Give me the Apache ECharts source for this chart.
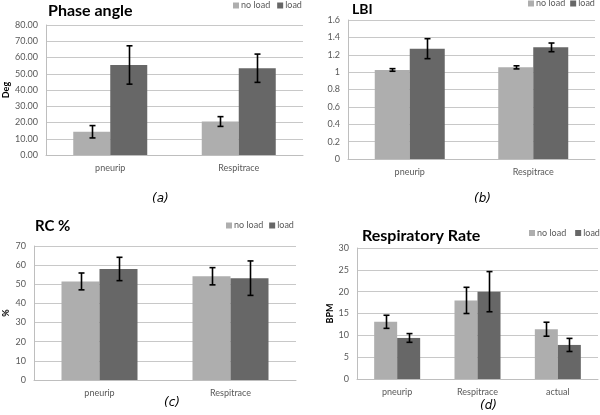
<!DOCTYPE html>
<html><head><meta charset="utf-8">
<script src="https://cdn.jsdelivr.net/npm/echarts@6/dist/echarts.min.js"></script>
<style>html,body{margin:0;padding:0;background:#fff}#c{width:600px;height:415px}</style>
</head><body><div id="c"></div>
<script>
// ---- data ----
const seriesNames = ['no load', 'load'];
// (a) Phase angle
const catsA = ['pneurip', 'Respitrace'];
const phaseNoLoad = [14.3, 20.6];
const phaseNoLoadErr = [3.8, 3.0];
const phaseLoad = [55.4, 53.4];
const phaseLoadErr = [11.8, 8.7];
// (b) LBI
const catsB = ['pneurip', 'Respitrace'];
const lbiNoLoad = [1.025, 1.055];
const lbiNoLoadErr = [0.015, 0.018];
const lbiLoad = [1.27, 1.285];
const lbiLoadErr = [0.115, 0.05];
// (c) RC %
const catsC = ['pneurip', 'Respitrace'];
const rcNoLoad = [51.5, 54.2];
const rcNoLoadErr = [4.4, 4.5];
const rcLoad = [58.0, 53.2];
const rcLoadErr = [6.1, 9.0];
// (d) Respiratory Rate
const catsD = ['pneurip', 'Respitrace', 'actual'];
const rrNoLoad = [13.1, 18.0, 11.4];
const rrNoLoadErr = [1.5, 3.0, 1.6];
const rrLoad = [9.4, 20.0, 7.8];
const rrLoadErr = [1.0, 4.6, 1.5];

const titles = ['Phase angle', 'LBI', 'RC %', 'Respiratory Rate'];
const panelLabels = ['(a)', '(b)', '(c)', '(d)'];

// ---- styling ----
const C_NO = '#AEAEAE', C_LOAD = '#676767';
const FONT = 'Lato';
const gridLine = {show: true, lineStyle: {color: '#C8C8C8', width: 1}};
const axisLine = {show: true, lineStyle: {color: '#BEBEBE', width: 1}};

const panels = [
  {cats: catsA, a: phaseNoLoad, ae: phaseNoLoadErr, b: phaseLoad, be: phaseLoadErr,
   grid: {left: 46, top: 25, width: 257, height: 130}, max: 80, interval: 10, fmt: v => v.toFixed(2),
   yname: 'Deg', ygap: 35, bw: 37},
  {cats: catsB, a: lbiNoLoad, ae: lbiNoLoadErr, b: lbiLoad, be: lbiLoadErr,
   grid: {left: 348, top: 20, width: 247, height: 139}, max: 1.6, interval: 0.2, fmt: v => String(Math.round(v * 10) / 10),
   yname: '', ygap: 0, bw: 35},
  {cats: catsC, a: rcNoLoad, ae: rcNoLoadErr, b: rcLoad, be: rcLoadErr,
   grid: {left: 34, top: 246, width: 262, height: 134}, max: 70, interval: 10, fmt: v => String(v),
   yname: '%', ygap: 23, bw: 38},
  {cats: catsD, a: rrNoLoad, ae: rrNoLoadErr, b: rrLoad, be: rrLoadErr,
   grid: {left: 357, top: 248, width: 241, height: 131}, max: 30, interval: 5, fmt: v => String(v),
   yname: 'BPM', ygap: 22, bw: 23}
];

function errRender(bw, sign) {
  return function (params, api) {
    const x = api.value(0);
    const lo = api.coord([x, api.value(1)]);
    const hi = api.coord([x, api.value(2)]);
    const cx = Math.round(lo[0] + sign * bw / 2) + 0.5;
    const cap = 3;
    const st = {stroke: '#000', lineWidth: 1.6};
    return {type: 'group', children: [
      {type: 'line', shape: {x1: cx, y1: hi[1], x2: cx, y2: lo[1]}, style: st},
      {type: 'line', shape: {x1: cx - cap, y1: hi[1], x2: cx + cap, y2: hi[1]}, style: st},
      {type: 'line', shape: {x1: cx - cap, y1: lo[1], x2: cx + cap, y2: lo[1]}, style: st}
    ]};
  };
}

const grids = [], xAxes = [], yAxes = [], series = [];
panels.forEach((p, i) => {
  grids.push(Object.assign({containLabel: false}, p.grid));
  xAxes.push({type: 'category', gridIndex: i, data: p.cats,
    axisLine: axisLine, axisTick: {show: false},
    axisLabel: {color: '#595959', fontFamily: FONT, fontSize: 9, margin: 9}});
  yAxes.push({type: 'value', gridIndex: i, min: 0, max: p.max, interval: p.interval,
    axisLine: axisLine, axisTick: {show: false}, splitLine: gridLine,
    axisLabel: {color: '#595959', fontFamily: FONT, fontSize: 9, margin: 8, formatter: p.fmt},
    name: p.yname, nameLocation: 'middle', nameRotate: 90, nameGap: p.ygap,
    nameTextStyle: {color: '#000', fontFamily: FONT, fontWeight: 'bold', fontSize: 9}});
  series.push({type: 'bar', name: seriesNames[0], xAxisIndex: i, yAxisIndex: i, data: p.a,
    barWidth: p.bw, barGap: '0%', itemStyle: {color: C_NO}, silent: true});
  series.push({type: 'bar', name: seriesNames[1], xAxisIndex: i, yAxisIndex: i, data: p.b,
    barWidth: p.bw, barGap: '0%', itemStyle: {color: C_LOAD}, silent: true});
  series.push({type: 'custom', xAxisIndex: i, yAxisIndex: i, z: 5, silent: true,
    renderItem: errRender(p.bw, -1),
    data: p.a.map((v, k) => [k, v - p.ae[k], v + p.ae[k]])});
  series.push({type: 'custom', xAxisIndex: i, yAxisIndex: i, z: 5, silent: true,
    renderItem: errRender(p.bw, 1),
    data: p.b.map((v, k) => [k, v - p.be[k], v + p.be[k]])});
});

const titleSpecs = [
  {text: titles[0], left: 48, top: 3, fontSize: 16},
  {text: titles[1], left: 352, top: 2, fontSize: 14},
  {text: titles[2], left: 35, top: 219, fontSize: 15},
  {text: titles[3], left: 362, top: 228, fontSize: 16}
];
const labelSpecs = [
  {text: panelLabels[0], left: 152, top: 193},
  {text: panelLabels[1], left: 474, top: 193},
  {text: panelLabels[2], left: 164, top: 397},
  {text: panelLabels[3], left: 480, top: 400}
];
const title = titleSpecs.map(t => ({text: t.text, left: t.left, top: t.top, padding: 0,
  textStyle: {fontFamily: FONT, fontWeight: 'bold', fontSize: t.fontSize, color: '#000'}}))
  .concat(labelSpecs.map(t => ({text: t.text, left: t.left, top: t.top, padding: 0,
  textStyle: {fontFamily: 'DejaVu Sans', fontStyle: 'italic', fontWeight: 'normal', fontSize: 12, color: '#000'}})));

const legendPos = [
  {left: 233, top: 1, gap: 7},
  {left: 528, top: -1, gap: 5},
  {left: 226, top: 221, gap: 6},
  {left: 529, top: 228.5, gap: 9}
];
const legend = legendPos.map(pos => ({data: seriesNames, left: pos.left, top: pos.top, padding: 0,
  orient: 'horizontal', width: 80,
  icon: 'rect', itemWidth: 6, itemHeight: 6, itemGap: pos.gap, selectedMode: false,
  textStyle: {fontFamily: FONT, fontSize: 9, color: '#595959', padding: [0, 0, 0, -3]}}));

const chart = echarts.init(document.getElementById('c'), null, {renderer: 'canvas'});
chart.setOption({animation: false, backgroundColor: '#fff', title, legend,
  grid: grids, xAxis: xAxes, yAxis: yAxes, series});
</script></body></html>
